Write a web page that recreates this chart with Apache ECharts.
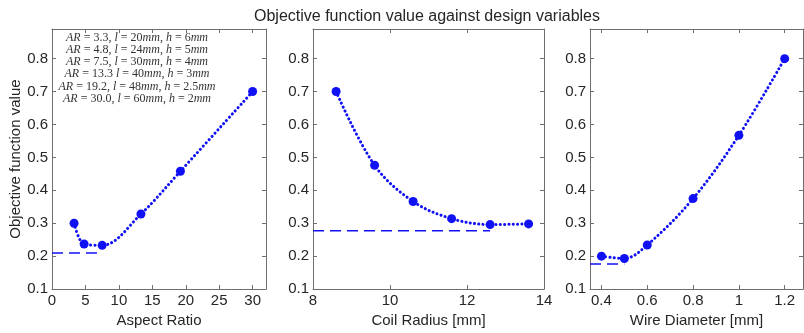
<!DOCTYPE html>
<html>
<head>
<meta charset="utf-8">
<script src="https://cdn.jsdelivr.net/npm/echarts@6/dist/echarts.min.js"></script>
<style>
  html, body { margin: 0; padding: 0; background: #fff; }
  #chart { width: 804px; height: 333px; }
</style>
</head>
<body>
<div id="chart"></div>
<script>
// data
const arX = [3.3, 4.8, 7.5, 13.3, 19.2, 30.0];
const arY = [0.30, 0.237, 0.233, 0.328, 0.458, 0.70];
const arRefX = [0, 7.5];
const arRefY = 0.21;

const crX = [8.6, 9.6, 10.6, 11.6, 12.6, 13.6];
const crY = [0.70, 0.476, 0.366, 0.314, 0.296, 0.298];
const crRefX = [8, 12.6];
const crRefY = 0.277;

const wdX = [0.4, 0.5, 0.6, 0.8, 1.0, 1.2];
const wdY = [0.20, 0.193, 0.234, 0.375, 0.567, 0.80];
const wdRefX = [0.35, 0.5];
const wdRefY = 0.176;

const yTicks = [0.1, 0.2, 0.3, 0.4, 0.5, 0.6, 0.7, 0.8];
const arTicks = [0, 5, 10, 15, 20, 25, 30];
const crTicks = [8, 10, 12, 14];
const wdTicks = [0.4, 0.6, 0.8, 1, 1.2];

const arNotes = [
  'AR = 3.3, l = 20mm, h = 6mm',
  'AR = 4.8, l = 24mm, h = 5mm',
  'AR = 7.5, l = 30mm, h = 4mm',
  'AR = 13.3 l = 40mm, h = 3mm',
  'AR = 19.2, l = 48mm, h = 2.5mm',
  'AR = 30.0, l = 60mm, h = 2mm',
];

const BLUE = '#1010f5';
const AXIS = '#6e6e6e';
const TXT = '#262626';
const FONT = 'Liberation Sans, Arial, sans-serif';

const grids = [
  { left: 52, top: 29, width: 214, height: 264 },
  { left: 313, top: 29, width: 231, height: 264 },
  { left: 590, top: 29, width: 213, height: 264 },
];
const xCfg = [
  { min: 0, max: 32, ticks: arTicks, name: 'Aspect Ratio' },
  { min: 8, max: 14, ticks: crTicks, name: 'Coil Radius [mm]' },
  { min: 0.35, max: 1.28, ticks: wdTicks, name: 'Wire Diameter [mm]' },
];

const xAxes = [];
const yAxes = [];
xCfg.forEach((c, i) => {
  const common = {
    type: 'value', gridIndex: i, min: c.min, max: c.max,
    splitLine: { show: false },
    axisLine: { show: true, onZero: false, lineStyle: { color: AXIS, width: 1 } },
    axisTick: { show: true, inside: true, length: 4, customValues: c.ticks, lineStyle: { color: AXIS } },
  };
  xAxes.push({
    ...common, position: 'bottom',
    name: c.name, nameLocation: 'middle', nameGap: 21,
    nameTextStyle: { fontFamily: FONT, fontSize: 15, color: TXT, verticalAlign: 'top' },
    axisLabel: { customValues: c.ticks, fontFamily: FONT, fontSize: 15, color: TXT, margin: 4, formatter: (v) => String(+v.toFixed(2)) },
  });
  xAxes.push({ ...common, position: 'top', axisLabel: { show: false } });

  const yCommon = {
    type: 'value', gridIndex: i, min: 0.1, max: 0.89,
    splitLine: { show: false },
    axisLine: { show: true, onZero: false, lineStyle: { color: AXIS, width: 1 } },
    axisTick: { show: true, inside: true, length: 4, customValues: yTicks, lineStyle: { color: AXIS } },
  };
  yAxes.push({
    ...yCommon, position: 'left',
    name: i === 0 ? 'Objective function value' : '',
    nameLocation: 'middle', nameGap: 28,
    nameTextStyle: { fontFamily: FONT, fontSize: 15, color: TXT },
    axisLabel: { customValues: yTicks, fontFamily: FONT, fontSize: 15, color: TXT, margin: 4, formatter: (v) => v.toFixed(1) },
  });
  yAxes.push({ ...yCommon, position: 'right', axisLabel: { show: false } });
});

function curve(xs, ys, i) {
  return {
    type: 'line', xAxisIndex: 2 * i, yAxisIndex: 2 * i,
    data: xs.map((x, k) => [x, ys[k]]),
    smooth: 0.35,
    symbol: 'circle', symbolSize: 9,
    itemStyle: { color: BLUE },
    lineStyle: { color: BLUE, width: 3, type: [0.1, 4.2], cap: 'round' },
    z: 3,
  };
}
function ref(xs, y, i) {
  return {
    type: 'line', xAxisIndex: 2 * i, yAxisIndex: 2 * i,
    data: xs.map((x) => [x, y]),
    symbol: 'none',
    lineStyle: { color: BLUE, width: 1.5, type: [11, 6] },
    z: 2,
  };
}

function richLine(s) {
  // letters italic, numbers/punctuation upright
  return s.replace(/([A-Za-z]+)|([^A-Za-z]+)/g, (m, a, b) => a ? `{i|${a}}` : `{n|${b}}`);
}

const chart = echarts.init(document.getElementById('chart'));
chart.setOption({
  animation: false,
  backgroundColor: '#fff',
  title: {
    text: 'Objective function value against design variables',
    left: 249, top: 4,
    textStyle: { fontFamily: FONT, fontSize: 16, fontWeight: 'normal', color: TXT },
  },
  grid: grids.map((g) => ({ ...g, show: false })),
  xAxis: xAxes,
  yAxis: yAxes,
  series: [
    ref(arRefX, arRefY, 0), curve(arX, arY, 0),
    ref(crRefX, crRefY, 1), curve(crX, crY, 1),
    ref(wdRefX, wdRefY, 2), curve(wdX, wdY, 2),
  ],
  graphic: arNotes.map((s, k) => ({
    type: 'text',
    x: 137, y: 38 + k * 12.1,
    style: {
      text: richLine(s),
      align: 'center', verticalAlign: 'middle',
      fill: '#333',
      rich: {
        i: { fontFamily: 'Liberation Serif, serif', fontStyle: 'italic', fontSize: 12, fill: '#333' },
        n: { fontFamily: 'Liberation Serif, serif', fontSize: 12, fill: '#333' },
      },
    },
  })),
});
</script>
</body>
</html>
